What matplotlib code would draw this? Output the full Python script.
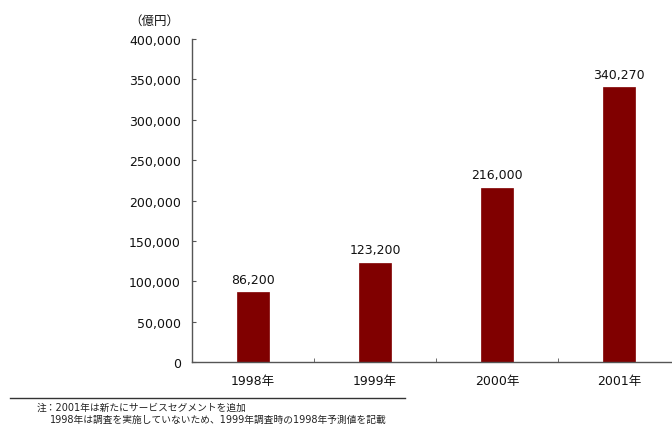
import matplotlib
matplotlib.use("Agg")
import matplotlib.pyplot as plt
from matplotlib.ticker import FuncFormatter, FixedLocator

plt.rcParams['font.family'] = ['DejaVu Sans', 'Noto Sans CJK JP']

years = ["1998年", "1999年", "2000年", "2001年"]
values = [86200, 123200, 216000, 340270]
y_ticks = [0, 50000, 100000, 150000, 200000, 250000, 300000, 350000, 400000]
unit_label = "（億円）"
notes = ["注：2001年は新たにサービスセグメントを追加",
         "1998年は調査を実施していないため、1999年調査時の1998年予測値を記載"]

fig = plt.figure(figsize=(6.72, 4.27), dpi=100)
# plot area runs slightly past the right edge of the figure
ax = fig.add_axes([192 / 672, 64 / 427, 488 / 672, 323 / 427])

x = range(len(years))
ax.bar(x, values, width=0.26, color="#800000", edgecolor="#800000", linewidth=0.5)
for xi, v in zip(x, values):
    ax.text(xi, v + 8000, f"{v:,}", ha="center", va="bottom", fontsize=9, color="#111111")

ax.set_xlim(-0.5, 3.5)
ax.set_ylim(0, 400000)
ax.set_yticks(y_ticks)
ax.yaxis.set_major_formatter(FuncFormatter(lambda v, p: f"{int(v):,}"))
ax.set_xticks(list(x))
ax.set_xticklabels(years)
ax.xaxis.set_minor_locator(FixedLocator([0.5, 1.5, 2.5]))
ax.tick_params(axis="x", which="major", length=0, pad=9, labelsize=9, colors="#111111")
ax.tick_params(axis="x", which="minor", direction="in", length=3, color="#555555")
ax.tick_params(axis="y", direction="in", length=3, pad=8, labelsize=9, labelcolor="#111111",
               color="#555555")
for s in ("top", "right"):
    ax.spines[s].set_visible(False)
for s in ("left", "bottom"):
    ax.spines[s].set_color("#555555")
    ax.spines[s].set_linewidth(1.0)

fig.text(154 / 672, 1 - 21 / 427, unit_label, ha="center", va="center", fontsize=9,
         color="#111111", family=['Noto Sans CJK JP', 'DejaVu Sans'])

fig.add_artist(plt.Line2D([10 / 672, 405 / 672], [1 - 399 / 427, 1 - 399 / 427],
                          color="#333333", linewidth=1.0))
fig.text(37 / 672, 1 - 408 / 427, notes[0], ha="left", va="center", fontsize=7, color="#222222")
fig.text(50 / 672, 1 - 420 / 427, notes[1], ha="left", va="center", fontsize=7, color="#222222")

fig.savefig("out.png", dpi=100)
